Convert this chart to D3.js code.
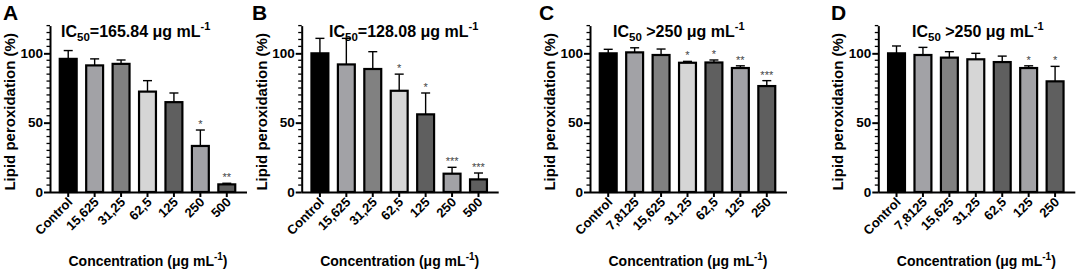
<!DOCTYPE html>
<html>
<head>
<meta charset="utf-8">
<script src="https://cdn.jsdelivr.net/npm/d3@7"></script>
<style>
  body { margin: 0; background: #fff; }
  svg { display: block; font-family: "Liberation Sans", Arial, sans-serif; }
</style>
</head>
<body>
<div id="chart"></div>
<script>
// ---- data ----
const catsAB = [ 'Control', '15,625', '31,25', '62,5', '125', '250', '500' ];
const catsCD = [ 'Control', '7,8125', '15,625', '31,25', '62,5', '125', '250' ];

const meanA = [ 96, 91.3, 92.4, 72.4, 64.8, 33.2, 5.5 ];
const errA  = [ 102, 96, 95.2, 80.3, 71.4, 44.7, 6.3 ];
const starA = [ '', '', '', '', '', '*', '**' ];

const meanB = [ 100, 92, 88.7, 73, 56, 13.2, 9.1 ];
const errB  = [ 110.8, 110.8, 101.2, 85, 71.4, 17.8, 13.7 ];
const starB = [ '', '', '', '*', '*', '***', '***' ];

const meanC = [ 100, 100.7, 98.8, 93.2, 93.4, 89.4, 76.4 ];
const errC  = [ 102.9, 104, 103.1, 94.2, 95.2, 91, 80.3 ];
const starC = [ '', '', '', '*', '*', '**', '***' ];

const meanD = [ 100, 98.8, 96.9, 95.7, 93.7, 89.4, 79.8 ];
const errD  = [ 105.3, 104.3, 101.2, 100, 98, 91, 90.6 ];
const starD = [ '', '', '', '', '', '*', '*' ];

const barColors = [ '#000000', '#a2a2a6', '#818181', '#d6d6d6', '#5f5f5f', '#a2a2a6', '#5f5f5f' ];
const yTicks = [ 0, 50, 100 ];

const panels = [
  { letter: 'A', cats: catsAB, mean: meanA, err: errA, star: starA, ic: '=165.84', ax: 50,    letterX: 3,   titleX: 61 },
  { letter: 'B', cats: catsAB, mean: meanB, err: errB, star: starB, ic: '=128.08', ax: 301.7, letterX: 252, titleX: 329 },
  { letter: 'C', cats: catsCD, mean: meanC, err: errC, star: starC, ic: ' >250',   ax: 590,   letterX: 539, titleX: 613 },
  { letter: 'D', cats: catsCD, mean: meanD, err: errD, star: starD, ic: ' >250',   ax: 878.3, letterX: 831, titleX: 912 }
];

// ---- layout ----
const W = 1079, H = 272;
const y0 = 192, yTop = 25.6;

const svg = d3.select('#chart').append('svg')
  .attr('width', W).attr('height', H);

const y = d3.scaleLinear().domain([ 0, 120 ]).range([ y0, yTop ]);

panels.forEach( p => drawPanel( p ) );

function drawPanel( p ) {
  const g = svg.append('g');
  const x = d3.scaleBand()
    .domain(p.cats)
    .range([ p.ax + 5, p.ax + 190 ])
    .paddingInner(0.36)
    .paddingOuter(0.18);

  // panel letter
  g.append('text')
    .attr('x', p.letterX).attr('y', 19.5)
    .style('font-size', '21px').style('font-weight', 'bold')
    .text(p.letter);

  // title
  const t = g.append('text')
    .attr('x', p.titleX).attr('y', 36.5)
    .style('font-size', '16px').style('font-weight', 'bold');
  t.append('tspan').text('IC');
  t.append('tspan').attr('dy', 4).style('font-size', '11.5px').text('50');
  t.append('tspan').attr('dy', -4).text(p.ic + ' \u03bcg mL');
  t.append('tspan').attr('dy', -6.5).style('font-size', '11px').text('-1');

  // bars
  g.selectAll('rect.bar').data(p.cats).join('rect')
    .attr('class', 'bar')
    .attr('x', d => x(d))
    .attr('y', (d, i) => y(p.mean[i]))
    .attr('width', x.bandwidth())
    .attr('height', (d, i) => y0 - y(p.mean[i]))
    .attr('fill', (d, i) => barColors[i])
    .attr('stroke', '#000').attr('stroke-width', 2.2);

  // error bars (upper only)
  const eg = g.selectAll('g.err').data(p.cats).join('g').attr('class', 'err');
  eg.append('line')
    .attr('x1', d => x(d) + x.bandwidth() / 2).attr('x2', d => x(d) + x.bandwidth() / 2)
    .attr('y1', (d, i) => y(p.mean[i])).attr('y2', (d, i) => y(p.err[i]))
    .attr('stroke', '#000').attr('stroke-width', 1.4);
  eg.append('line')
    .attr('x1', d => x(d) + x.bandwidth() / 2 - 4.5).attr('x2', d => x(d) + x.bandwidth() / 2 + 4.5)
    .attr('y1', (d, i) => y(p.err[i])).attr('y2', (d, i) => y(p.err[i]))
    .attr('stroke', '#000').attr('stroke-width', 1.4);

  // significance stars
  g.selectAll('text.star').data(p.cats).join('text')
    .attr('class', 'star')
    .attr('x', d => x(d) + x.bandwidth() / 2)
    .attr('y', (d, i) => y(p.err[i]) - 2)
    .attr('text-anchor', 'middle')
    .style('font-size', '11px').style('fill', '#444')
    .text((d, i) => p.star[i]);

  // y axis
  const yAxis = d3.axisLeft(y).tickValues(yTicks).tickSize(6).tickSizeOuter(0);
  const yg = g.append('g').attr('transform', `translate(${p.ax},0)`).call(yAxis);
  yg.select('.domain').attr('stroke-width', 2);
  yg.selectAll('.tick line').attr('stroke-width', 2);
  yg.selectAll('.tick text')
    .style('font-size', '13.5px').style('font-weight', 'bold').attr('x', -7);

  const minor = d3.range(0, 121, 5).filter(v => yTicks.indexOf(v) < 0);
  g.append('g').selectAll('line').data(minor).join('line')
    .attr('x1', p.ax - 3.5).attr('x2', p.ax)
    .attr('y1', d => y(d)).attr('y2', d => y(d))
    .attr('stroke', '#000').attr('stroke-width', 1.3);

  // x axis
  const xAxis = d3.axisBottom(x).tickSize(5).tickSizeOuter(0);
  const xg = g.append('g').attr('transform', `translate(0,${y0})`).call(xAxis);
  xg.select('.domain').attr('d', `M${p.ax},0.5H${p.ax + 197}`).attr('stroke-width', 2);
  xg.selectAll('.tick line').attr('stroke-width', 2);
  xg.selectAll('.tick text')
    .style('font-size', '13px').style('font-weight', 'bold')
    .attr('text-anchor', 'end')
    .attr('dy', 0)
    .attr('transform', 'translate(5,11) rotate(-45)')
    .attr('y', 0).attr('x', 0);

  // axis titles
  g.append('text')
    .attr('transform', `translate(${p.ax - 35},${(y0 + yTop) / 2 + 3}) rotate(-90)`)
    .attr('text-anchor', 'middle')
    .style('font-size', '15px').style('font-weight', 'bold')
    .text('Lipid peroxidation (%)');

  const xt = g.append('text')
    .attr('x', p.ax + 98).attr('y', 266)
    .attr('text-anchor', 'middle')
    .style('font-size', '14px').style('font-weight', 'bold');
  xt.append('tspan').text('Concentration (\u03bcg mL');
  xt.append('tspan').attr('dy', -6).style('font-size', '10px').text('-1');
  xt.append('tspan').attr('dy', 6).text(')');
}
</script>
</body>
</html>
